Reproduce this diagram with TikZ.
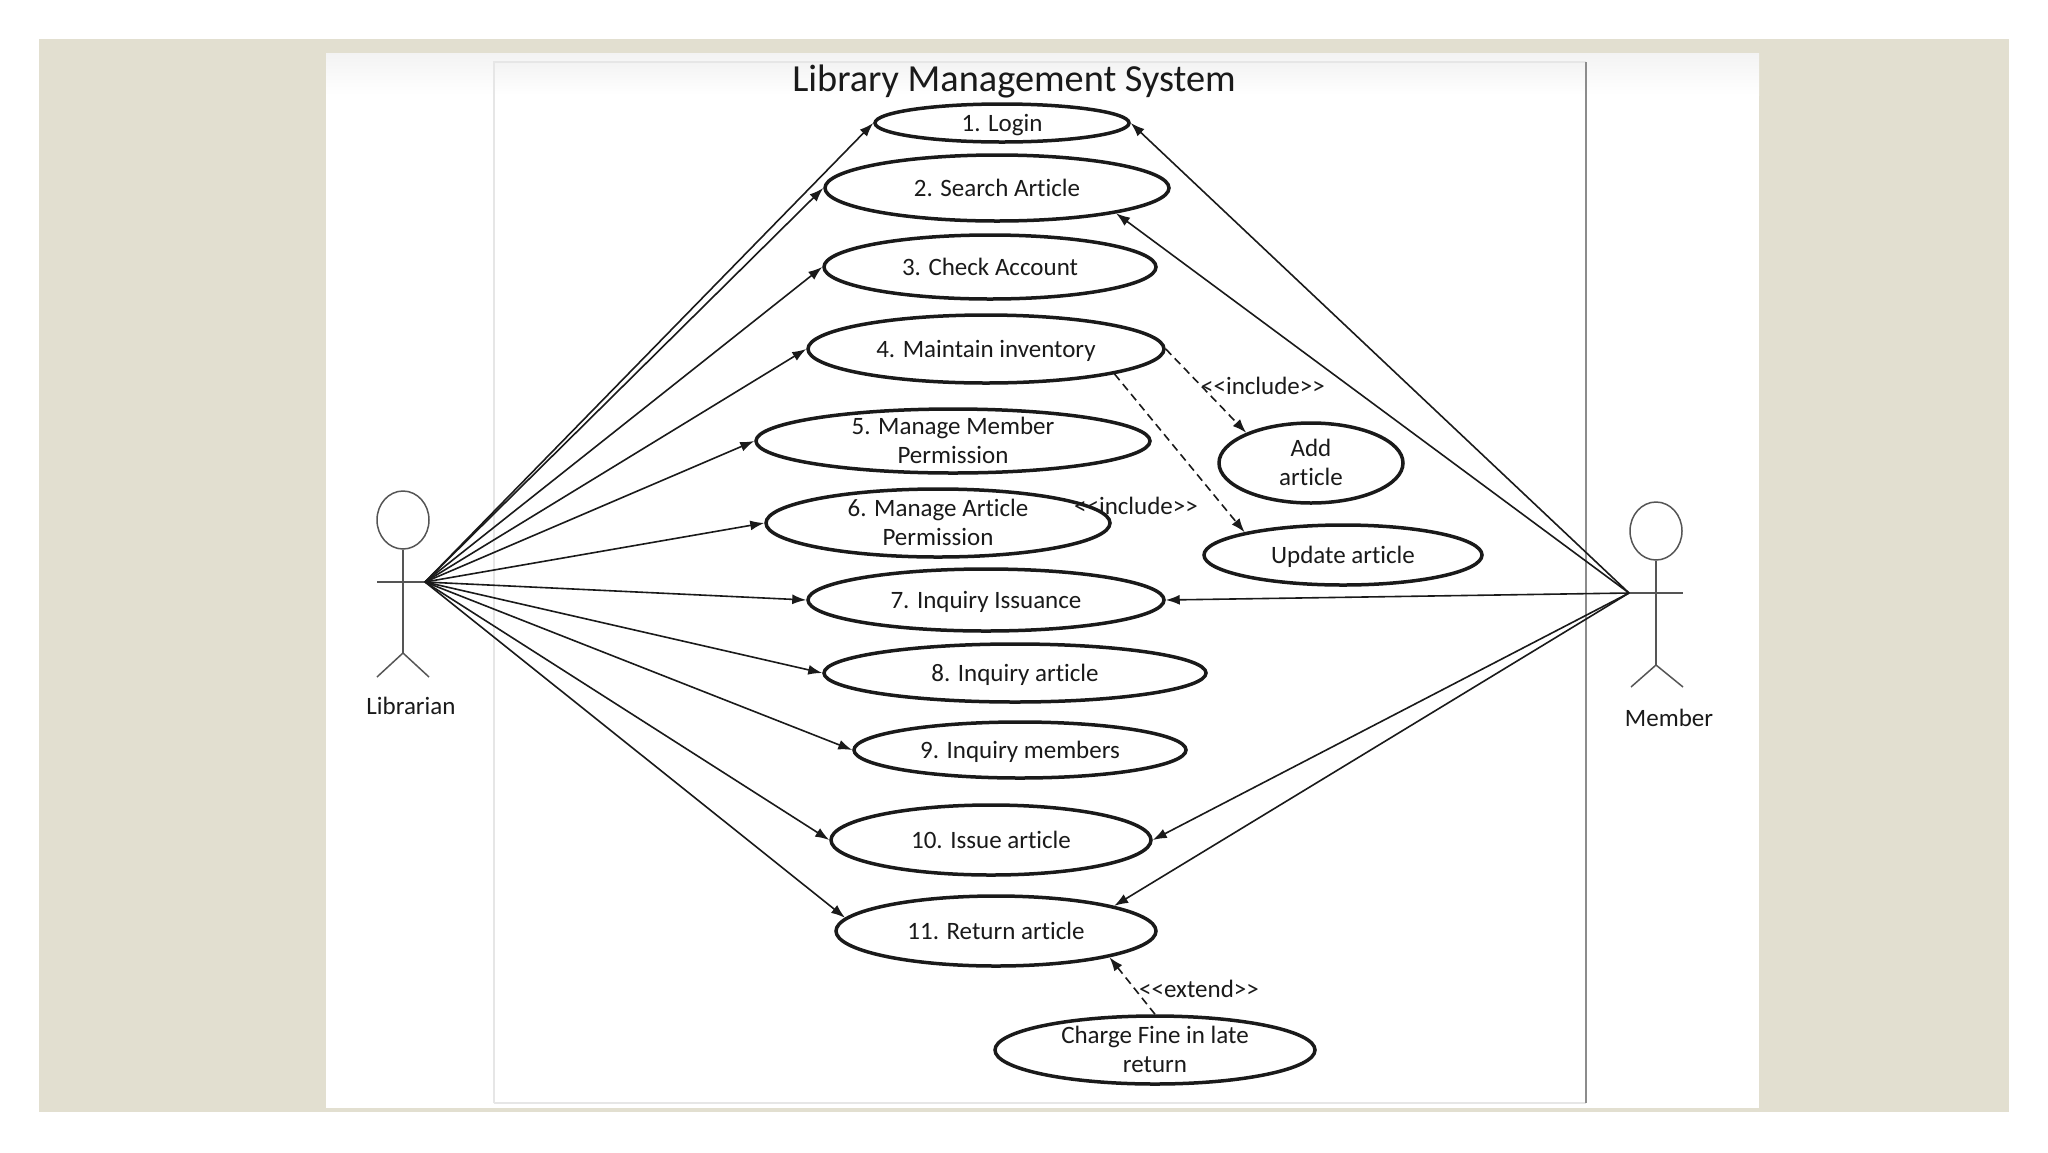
\documentclass[tikz,border=0pt]{standalone}
\usepackage{fontspec}
\setmainfont[Ligatures={TeXOff,NoCommon}]{Carlito}
\usepackage{xcolor}
\usepackage{tikz}
\usetikzlibrary{arrows.meta,positioning,shapes.geometric}
\definecolor{pagebeige}{HTML}{E2DFD0}
\definecolor{frameline}{HTML}{8C8C8C}
\definecolor{framesoft}{HTML}{E6E6E6}
\definecolor{shadesoft}{HTML}{F3F3F3}
\definecolor{inkblack}{HTML}{1A1A1A}
\definecolor{actorgray}{HTML}{555555}

\begin{document}
\begin{tikzpicture}[
  x=1pt,y=-1pt,
  usecase/.style={draw=inkblack,ellipse,line width=3.5pt,inner sep=0pt,align=center,
    text height=16pt,text depth=0pt,text=inkblack,font=\fontsize{25}{28.5}\selectfont},
  twolines/.style={text height=44pt,text depth=-3pt},
  assoc/.style={-{Latex[length=14pt,width=10pt]},line width=1.6pt,inkblack},
  dep/.style={-{Latex[length=14pt,width=10pt]},line width=1.6pt,inkblack,dashed,dash pattern=on 8pt off 5pt},
  stick/.style={line width=1.5pt,actorgray},
  tag/.style={inner sep=0pt,text=inkblack,font=\fontsize{25}{28.5}\selectfont}
]
\useasboundingbox (0,0) rectangle (2048,1152);
\fill[pagebeige] (39,39) rectangle (2009,1112);
\fill[white] (326,53) rectangle (1759,1108);
\shade[top color=shadesoft,bottom color=white] (326,53) rectangle (1759,95);
\shade[top color=shadesoft,bottom color=white] (494,62) rectangle (1586,95);
\draw[line width=1.5pt,framesoft] (494,1103) -- (494,62) -- (1586,62);
\draw[line width=1.5pt,framesoft] (494,1103) -- (1586,1103);
\draw[line width=1.5pt,frameline] (1586,62) -- (1586,1103);

\node[tag,font=\fontsize{38.3}{44}\selectfont] (title) at (1014,81) {Library Management System};

\node[usecase,minimum width=254pt,minimum height=38pt] (login) at (1002,123) {1. Login};
\node[usecase,minimum width=344pt,minimum height=66pt] (search) at (997,188) {2. Search Article};
\node[usecase,minimum width=332pt,minimum height=64pt] (check) at (990,267) {3. Check Account};
\node[usecase,minimum width=356pt,minimum height=68pt] (maintain) at (986,349) {4. Maintain inventory};
\node[usecase,twolines,minimum width=394pt,minimum height=64pt] (member) at (953,441) {5. Manage Member\\Permission};
\node[usecase,twolines,minimum width=344pt,minimum height=68pt] (permit) at (938,523) {6. Manage Article\\Permission};
\node[usecase,minimum width=356pt,minimum height=62pt] (issuance) at (986,600) {7. Inquiry Issuance};
\node[usecase,minimum width=382pt,minimum height=58pt] (inqart) at (1015,673) {8. Inquiry article};
\node[usecase,minimum width=332pt,minimum height=56pt] (inqmem) at (1020,750) {9. Inquiry members};
\node[usecase,minimum width=320pt,minimum height=70pt] (issue) at (991,840) {10. Issue article};
\node[usecase,minimum width=320pt,minimum height=70pt] (return) at (996,931) {11. Return article};
\node[usecase,twolines,minimum width=184pt,minimum height=80pt] (add) at (1311,463) {Add\\article};
\node[usecase,minimum width=278pt,minimum height=60pt] (update) at (1343,555) {Update article};
\node[usecase,twolines,minimum width=320pt,minimum height=68pt] (fine) at (1155,1050) {Charge Fine in late\\return};

\node[draw=actorgray,line width=1.5pt,ellipse,inner sep=0pt,minimum width=52pt,minimum height=58pt] (libhead) at (403,520) {};
\coordinate (libhip) at (403,653);
\coordinate (libarmL) at (377,582);
\coordinate (libhand) at (425,582);
\coordinate (libfootL) at (377,677);
\coordinate (libfootR) at (429,677);
\draw[stick] (libhead.south) -- (libhip);
\draw[stick] (libarmL) -- (libhand);
\draw[stick] (libfootL) -- (libhip) -- (libfootR);
\node[tag] (librarian) at (411,706) {Librarian};

\node[draw=actorgray,line width=1.5pt,ellipse,inner sep=0pt,minimum width=52pt,minimum height=58pt] (memhead) at (1656,531) {};
\coordinate (memhip) at (1656,665);
\coordinate (memhand) at (1629,593);
\coordinate (memarmR) at (1683,593);
\coordinate (memfootL) at (1631,687);
\coordinate (memfootR) at (1683,687);
\draw[stick] (memhead.south) -- (memhip);
\draw[stick] (memhand) -- (memarmR);
\draw[stick] (memfootL) -- (memhip) -- (memfootR);
\node[tag] (memberlabel) at (1669,718) {Member};

\draw[assoc] (libhand) -- (login.west);
\draw[assoc] (libhand) -- (search.west);
\draw[assoc] (libhand) -- (check.west);
\draw[assoc] (libhand) -- (maintain.west);
\draw[assoc] (libhand) -- (member.west);
\draw[assoc] (libhand) -- (permit.west);
\draw[assoc] (libhand) -- (issuance.west);
\draw[assoc] (libhand) -- (inqart.west);
\draw[assoc] (libhand) -- (inqmem.west);
\draw[assoc] (libhand) -- (issue.west);
\draw[assoc] (libhand) -- (return.175);

\draw[assoc] (memhand) -- (login.east);
\draw[assoc] (memhand) -- (search.-12);
\draw[assoc] (memhand) -- (issuance.east);
\draw[assoc] (memhand) -- (issue.east);
\draw[assoc] (memhand) -- (return.12);

\draw[dep] (maintain.east) -- (add.155);
\draw[dep] (maintain.-11) -- (update.167);
\draw[dep] (fine.north) -- (return.-13);

\node[tag] (incl1) at (1263,386) {<<include>>};
\node[tag] (incl2) at (1136,506) {<<include>>};
\node[tag] (extnd) at (1199,989) {<<extend>>};
\end{tikzpicture}
\end{document}
